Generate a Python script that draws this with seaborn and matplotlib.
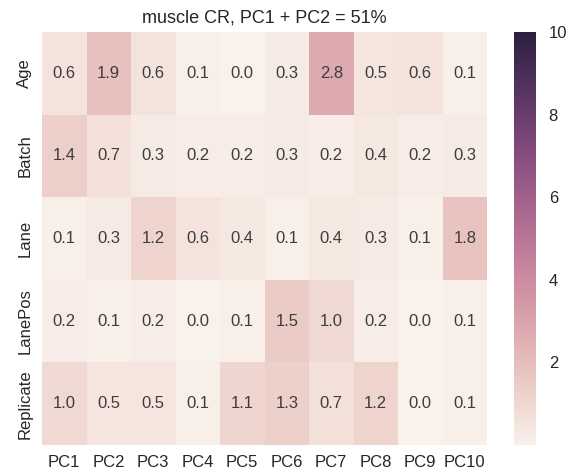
import numpy as np
import pandas as pd
import matplotlib
matplotlib.use("Agg")
import matplotlib.pyplot as plt
import seaborn as sns

rows = ["Age", "Batch", "Lane", "LanePos", "Replicate"]
cols = ["PC1", "PC2", "PC3", "PC4", "PC5", "PC6", "PC7", "PC8", "PC9", "PC10"]
age = [0.6, 1.9, 0.6, 0.1, 0.0, 0.3, 2.8, 0.5, 0.6, 0.1]
batch = [1.4, 0.7, 0.3, 0.2, 0.2, 0.3, 0.2, 0.4, 0.2, 0.3]
lane = [0.1, 0.3, 1.2, 0.6, 0.4, 0.1, 0.4, 0.3, 0.1, 1.8]
lanepos = [0.2, 0.1, 0.2, 0.0, 0.1, 1.5, 1.0, 0.2, 0.0, 0.1]
replicate = [1.0, 0.5, 0.5, 0.1, 1.1, 1.3, 0.7, 1.2, 0.0, 0.1]

df = pd.DataFrame([age, batch, lane, lanepos, replicate], index=rows, columns=cols)

sns.set_theme(style="white")
plt.rcParams['font.family'] = ['Liberation Sans', 'DejaVu Sans']

fig = plt.figure(figsize=(5.81, 4.76), dpi=100)
ax = fig.add_axes([0.0723, 0.065, 0.766, 0.868])
cax = fig.add_axes([0.885, 0.065, 0.0379, 0.868])
cmap = sns.cubehelix_palette(light=.95, as_cmap=True)
sns.heatmap(df, ax=ax, cbar_ax=cax, cmap=cmap, vmin=0, vmax=10,
            annot=True, fmt=".1f", annot_kws={"fontsize": 12, "color": "#3d3d3d"})
ax.set_title("muscle CR, PC1 + PC2 = 51%", fontsize=13, color="#262626", pad=7)
ax.tick_params(axis='both', length=0, labelsize=12, colors="#262626", pad=7)
ax.set_xlabel("")
ax.set_ylabel("")
plt.setp(ax.get_yticklabels(), rotation=90, va="center")
plt.setp(ax.get_xticklabels(), rotation=0)
cax.set_yticks([2, 4, 6, 8, 10])
cax.tick_params(length=0, labelsize=12, colors="#262626", pad=9)
for s in cax.spines.values():
    s.set_visible(False)
fig.savefig("out.png", dpi=100)
